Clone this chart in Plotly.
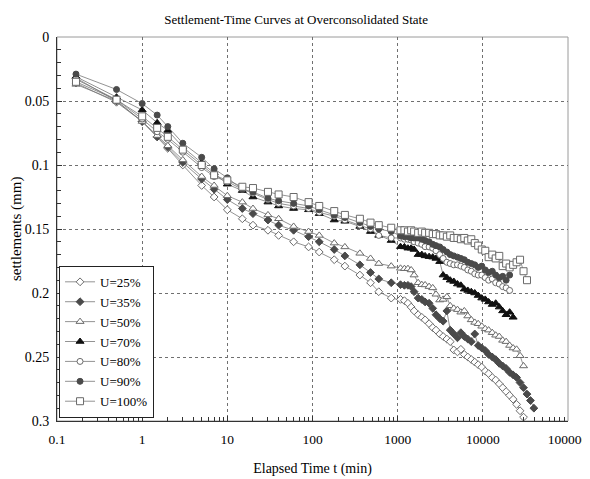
import plotly.graph_objects as go

# ---- data ----
T_EARLY = [0.167, 0.5, 1, 1.5, 2, 3, 5, 7, 10, 15, 20, 30, 40, 60, 90, 120, 180, 240, 360, 480, 600, 840]
T_LATE = [1080, 1200, 1320, 1440, 1560, 1740, 1920, 2100, 2340, 2580, 2820, 3120, 3420, 3780, 4140,
          4560, 5040, 5520, 6060, 6660, 7320, 8040, 8820, 9720, 10680, 11700, 12900, 14160, 15600,
          17100, 18780, 20640, 22680, 24900, 27360, 30060, 33000, 36240, 39780]
times = T_EARLY + T_LATE

u25 = [0.036, 0.051, 0.066, 0.078, 0.087, 0.100, 0.116, 0.125, 0.135, 0.142, 0.147, 0.151, 0.155, 0.160,
       0.164, 0.168, 0.174, 0.179, 0.186, 0.192, 0.199, 0.204,
       0.205, 0.206, 0.208, 0.211, 0.214, 0.217, 0.219, 0.221, 0.224, 0.227, 0.229, 0.232, 0.234, 0.236,
       0.238, 0.2445, 0.246, 0.244, 0.248, 0.250, 0.252, 0.254, 0.256, 0.258, 0.261, 0.263, 0.266, 0.268,
       0.271, 0.274, 0.277, 0.280, 0.283, 0.287, 0.292, 0.297]
u35 = [0.032, 0.050, 0.066, 0.078, 0.086, 0.098, 0.111, 0.119, 0.127, 0.134, 0.138, 0.143, 0.147, 0.151,
       0.156, 0.160, 0.166, 0.171, 0.178, 0.184, 0.189, 0.192,
       0.1935, 0.194, 0.194, 0.195, 0.199, 0.204, 0.205, 0.207, 0.208, 0.212, 0.217, 0.220, 0.222, 0.214,
       0.229, 0.232, 0.235, 0.231, 0.234, 0.236, 0.238, 0.232, 0.241, 0.243, 0.245, 0.248, 0.250, 0.252,
       0.255, 0.257, 0.259, 0.262, 0.264, 0.266, 0.270, 0.274, 0.279, 0.284, 0.290]
u50 = [0.037, 0.050, 0.066, 0.077, 0.085, 0.096, 0.109, 0.116, 0.124, 0.129, 0.134, 0.139, 0.142, 0.148,
       0.152, 0.155, 0.161, 0.164, 0.169, 0.173, 0.177, 0.179,
       0.1807, 0.181, 0.181, 0.182, 0.186, 0.192, 0.1935, 0.1937, 0.195, 0.196, 0.201, 0.2055, 0.205, 0.203,
       0.210, 0.212, 0.213, 0.215, 0.214, 0.218, 0.221, 0.223, 0.224, 0.226, 0.228, 0.229, 0.231, 0.233,
       0.234, 0.237, 0.238, 0.241, 0.243, 0.244, 0.249, 0.257]
u70 = [0.031, 0.047, 0.057, 0.067, 0.073, 0.086, 0.098, 0.106, 0.115, 0.120, 0.125, 0.129, 0.132, 0.134,
       0.135, 0.138, 0.143, 0.144, 0.148, 0.152, 0.155, 0.159,
       0.1638, 0.164, 0.165, 0.165, 0.166, 0.170, 0.170, 0.171, 0.1716, 0.172, 0.173, 0.1755, 0.186, 0.188,
       0.190, 0.191, 0.193, 0.194, 0.197, 0.198, 0.199, 0.200, 0.202, 0.204, 0.205, 0.207, 0.209, 0.208,
       0.211, 0.214, 0.217, 0.215, 0.219]
u80 = [0.033, 0.049, 0.064, 0.074, 0.080, 0.090, 0.102, 0.109, 0.113, 0.119, 0.122, 0.127, 0.130, 0.132,
       0.134, 0.137, 0.140, 0.143, 0.147, 0.150, 0.155, 0.157,
       0.157, 0.158, 0.158, 0.1586, 0.160, 0.161, 0.162, 0.1638, 0.164, 0.165, 0.167, 0.170, 0.173, 0.176,
       0.177, 0.178, 0.178, 0.179, 0.180, 0.182, 0.183, 0.185, 0.186, 0.186, 0.188, 0.190, 0.189, 0.192,
       0.193, 0.195, 0.196, 0.198]
u90 = [0.029, 0.041, 0.052, 0.061, 0.070, 0.083, 0.094, 0.103, 0.110, 0.119, 0.121, 0.126, 0.128, 0.130,
       0.132, 0.135, 0.139, 0.141, 0.145, 0.148, 0.150, 0.152,
       0.1555, 0.156, 0.156, 0.157, 0.157, 0.157, 0.158, 0.159, 0.160, 0.162, 0.163, 0.164, 0.166, 0.168,
       0.170, 0.171, 0.172, 0.173, 0.174, 0.176, 0.177, 0.178, 0.180, 0.179, 0.182, 0.184, 0.183, 0.186,
       0.188, 0.187, 0.190, 0.186]
u100 = [0.035, 0.049, 0.062, 0.071, 0.078, 0.088, 0.100, 0.108, 0.112, 0.117, 0.118, 0.121, 0.123, 0.125,
        0.129, 0.132, 0.136, 0.139, 0.142, 0.145, 0.147, 0.149,
        0.151, 0.151, 0.152, 0.151, 0.152, 0.153, 0.152, 0.153, 0.153, 0.154, 0.154, 0.155, 0.155, 0.156,
        0.155, 0.157, 0.157, 0.158, 0.157, 0.159, 0.158, 0.161, 0.163, 0.166, 0.167, 0.172, 0.170, 0.173,
        0.171, 0.179, 0.177, 0.180, 0.178, 0.176, 0.174, 0.183, 0.190]

series_names = ["U=25%", "U=35%", "U=50%", "U=70%", "U=80%", "U=90%", "U=100%"]
series_values = [u25, u35, u50, u70, u80, u90, u100]

x_tick_vals = [0.1, 1, 10, 100, 1000, 10000, 100000]
x_tick_text = ["0.1", "1", "10", "100", "1000", "10000", "100000"]
y_tick_vals = [0, 0.05, 0.1, 0.15, 0.2, 0.25, 0.3]
y_tick_text = ["0", "0.05", "0.1", "0.15", "0.2", "0.25", "0.3"]

# ---- styles ----
styles = [
    dict(symbol="diamond", color="white", edge="#6a6a6a", size=6),
    dict(symbol="diamond", color="#4a4a4a", edge="#4a4a4a", size=6),
    dict(symbol="triangle-up", color="white", edge="#6a6a6a", size=7),
    dict(symbol="triangle-up", color="#111111", edge="#111111", size=7),
    dict(symbol="circle", color="white", edge="#6a6a6a", size=6),
    dict(symbol="circle", color="#4a4a4a", edge="#4a4a4a", size=6),
    dict(symbol="square", color="white", edge="#6a6a6a", size=7),
]

FONT = "'Liberation Serif', 'Times New Roman', Times, serif"

fig = go.Figure()
for name, vals, st in zip(series_names, series_values, styles):
    fig.add_trace(go.Scatter(
        x=times[:len(vals)], y=vals, name=name, mode="lines+markers",
        line=dict(color="#777777", width=0.8),
        marker=dict(symbol=st["symbol"], color=st["color"], size=st["size"],
                    line=dict(color=st["edge"], width=1)),
    ))

minor_x = [m * 10 ** e for e in range(-1, 5) for m in range(2, 10)]

# page body adds an 8px offset, so the figure is 8px smaller and margins shifted
fig.update_layout(
    width=582, height=471,
    margin=dict(l=49, r=22, t=29, b=58, autoexpand=False),
    paper_bgcolor="white", plot_bgcolor="white",
    font=dict(family=FONT, size=14, color="black"),
    title=dict(text="Settlement-Time Curves at Overconsolidated State", x=0.495, xanchor="center",
               y=0.975, yanchor="middle", font=dict(family=FONT, size=13, color="black")),
    showlegend=True,
    legend=dict(x=0.004, y=0.404, xanchor="left", yanchor="top", bgcolor="white",
                bordercolor="#222", borderwidth=1, font=dict(family=FONT, size=13),
                itemwidth=30, tracegroupgap=0),
    shapes=[dict(type="rect", xref="paper", yref="paper", x0=0, x1=1, y0=0, y1=1,
                 line=dict(color="#9a9a9a", width=1), layer="below")],
    annotations=[dict(text="settlements (mm)", textangle=-90, xref="paper", yref="paper",
                      x=-0.08, y=0.5, xanchor="center", yanchor="middle", showarrow=False,
                      font=dict(family=FONT, size=15, color="black"))],
)

fig.update_xaxes(
    type="log", range=[-1, 5], tickmode="array", tickvals=x_tick_vals, ticktext=x_tick_text,
    ticks="inside", ticklen=5, tickcolor="#333",
    showline=True, linecolor="#333", linewidth=1, mirror=False,
    showgrid=True, gridcolor="#707070", gridwidth=1, griddash="dot", zeroline=False,
    tickfont=dict(family=FONT, size=13.5), ticklabelstandoff=6,
    minor=dict(ticks="inside", ticklen=4, tickvals=minor_x, tickcolor="#333", showgrid=False),
    title=dict(text="Elapsed Time t (min)", font=dict(family=FONT, size=14), standoff=16),
    automargin=False,
)
fig.update_yaxes(
    range=[0.3, 0], tickmode="array", tickvals=y_tick_vals, ticktext=y_tick_text,
    ticks="inside", ticklen=5, tickcolor="#333",
    showline=True, linecolor="#333", linewidth=1, mirror=False,
    showgrid=True, gridcolor="#707070", gridwidth=1, griddash="dot", zeroline=False,
    tickfont=dict(family=FONT, size=14), ticklabelstandoff=4,
    minor=dict(ticks="inside", ticklen=4, dtick=0.01, tickcolor="#333", showgrid=False),
    automargin=False,
)

fig.write_html("out.html")
